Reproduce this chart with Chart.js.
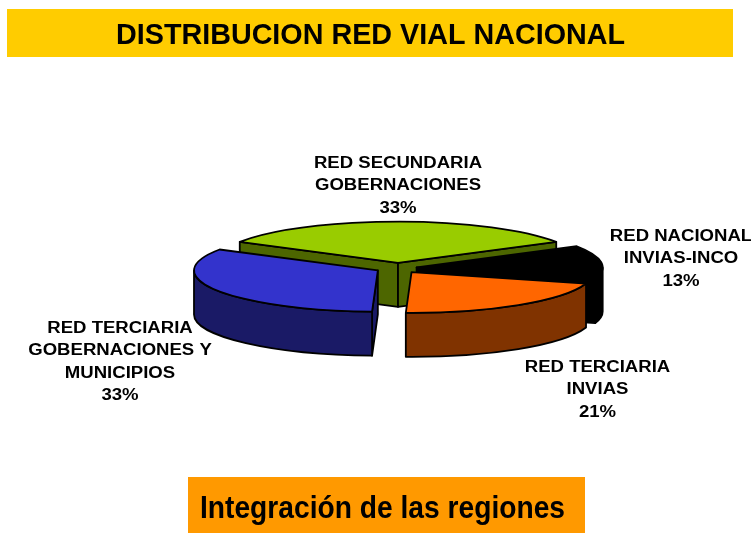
<!DOCTYPE html>
<html><head><meta charset="utf-8">
<script src="https://cdn.jsdelivr.net/npm/chart.js@4"></script>
<style>html,body{margin:0;padding:0;background:#fff;overflow:hidden}
#w{position:absolute;left:0;top:0;width:751px;height:533px}
canvas{filter:blur(0.45px)}</style></head>
<body><div id="w"><canvas id="c" width="751" height="533"></canvas></div>
<script>
const titleText = "DISTRIBUCION RED VIAL NACIONAL";
const footerText = "Integración de las regiones";
const categories = [
  ["RED SECUNDARIA","GOBERNACIONES"],
  ["RED NACIONAL","INVIAS-INCO"],
  ["RED TERCIARIA","INVIAS"],
  ["RED TERCIARIA","GOBERNACIONES Y","MUNICIPIOS"]
];
const values = [33,13,21,33];
const topColors = ["#99cc00","#000000","#ff6600","#3333cc"];
const sideColors = ["#4d6600","#000000","#803300","#1a1a66"];
const sliceOffsets = [92,75,92,92];
const labelAnchors = [[398,163.5],[681,236.5],[597.5,367.5],[120,328.5]];
const K = 41/183, DEPTH = 44;

function geom(arc){
  const p = arc.getProps(['x','y','startAngle','endAngle','outerRadius','circumference']);
  const off = (arc.options.offset||0)/4;
  const h = (p.startAngle+p.endAngle)/2;
  const fix = 1-Math.sin(Math.min(Math.PI,p.circumference));
  const r = p.outerRadius+off*fix;
  const cx = p.x+Math.cos(h)*off;
  const cy = p.y+(Math.sin(h)*off)*K;
  return {cx,cy,r,ry:r*K,a0:p.startAngle,a1:p.endAngle};
}
const squash3d = {
  id:'squash3d',
  beforeDatasetsDraw(chart){
    const ctx=chart.ctx, arcs=chart.getDatasetMeta(0).data;
    ctx.save();
    ctx.lineWidth=1.8;ctx.lineJoin='round';ctx.strokeStyle='#000';
    arcs.forEach((arc,i)=>{
      const g=geom(arc);
      ctx.fillStyle=sideColors[i];
      const quad=a=>{
        const x=g.cx+g.r*Math.cos(a),y=g.cy+g.ry*Math.sin(a);
        ctx.beginPath();ctx.moveTo(g.cx,g.cy);ctx.lineTo(x,y);ctx.lineTo(x,y+DEPTH);ctx.lineTo(g.cx,g.cy+DEPTH);ctx.closePath();ctx.fill();ctx.stroke();
      };
      if(Math.cos(g.a0)<0) quad(g.a0);
      if(Math.cos(g.a1)>0) quad(g.a1);
      const tw=Math.PI*2;
      [0,tw,-tw].forEach(s=>{
        const lo=Math.max(g.a0,s),hi=Math.min(g.a1,s+Math.PI);
        if(hi>lo){
          ctx.beginPath();
          ctx.ellipse(g.cx,g.cy,g.r,g.ry,0,lo,hi);
          ctx.ellipse(g.cx,g.cy+DEPTH,g.r,g.ry,0,hi,lo,true);
          ctx.closePath();ctx.fill();ctx.stroke();
        }
      });
    });
    ctx.restore();
    // squash the library's own arcs
    const y0=chart.getDatasetMeta(0).data[0].y;
    ctx.save();
    ctx.translate(0,y0);ctx.scale(1,K);ctx.translate(0,-y0);
  },
  afterDatasetsDraw(chart){
    const ctx=chart.ctx, arcs=chart.getDatasetMeta(0).data;
    ctx.restore();
    ctx.save();
    ctx.lineWidth=1.8;ctx.lineJoin='round';ctx.strokeStyle='#000';
    arcs.forEach(arc=>{
      const g=geom(arc);
      ctx.beginPath();ctx.moveTo(g.cx,g.cy);ctx.ellipse(g.cx,g.cy,g.r,g.ry,0,g.a0,g.a1);ctx.closePath();ctx.stroke();
    });
    ctx.restore();
    // labels
    ctx.save();
    ctx.fillStyle='#000';ctx.textAlign='center';ctx.textBaseline='middle';
    ctx.font='bold 16px "Liberation Sans"';
    categories.forEach((lines,i)=>{
      const [x,y]=labelAnchors[i];
      [...lines,values[i]+'%'].forEach((t,j)=>{
        ctx.save();ctx.translate(x,y+j*22.3);ctx.scale(1.16,1);ctx.fillText(t,0,0);ctx.restore();
      });
    });
    ctx.restore();
  }
};
const banners = {
  id:'banners',
  beforeDraw(chart){
    const ctx=chart.ctx;
    ctx.save();
    ctx.fillStyle='#ffcc00';ctx.fillRect(7,9,726,48);
    ctx.fillStyle='#ff9900';ctx.fillRect(188,477,397,56);
    ctx.fillStyle='#000';ctx.textBaseline='alphabetic';ctx.textAlign='center';
    const fit=(t,font,cx,y,w)=>{
      ctx.save();ctx.font=font;
      const s=w/ctx.measureText(t).width;
      ctx.translate(cx,y);ctx.scale(s,1);ctx.fillText(t,0,0);ctx.restore();
    };
    fit(titleText,'bold 30px "Liberation Sans"',370.5,43.5,509);
    fit(footerText,'bold 32px "Liberation Sans"',382.5,517.5,365);
    ctx.restore();
  }
};
new Chart(document.getElementById('c'),{
  type:'pie',
  data:{labels:categories,datasets:[{
    data:values,backgroundColor:topColors,borderWidth:0,offset:sliceOffsets,clip:false
  }]},
  options:{
    responsive:false,animation:false,
    radius:181,rotation:-59.4,
    layout:{padding:{left:45,top:3}},
    plugins:{legend:{display:false},tooltip:{enabled:false},title:{display:false}}
  },
  plugins:[banners,squash3d]
});
</script></body></html>
